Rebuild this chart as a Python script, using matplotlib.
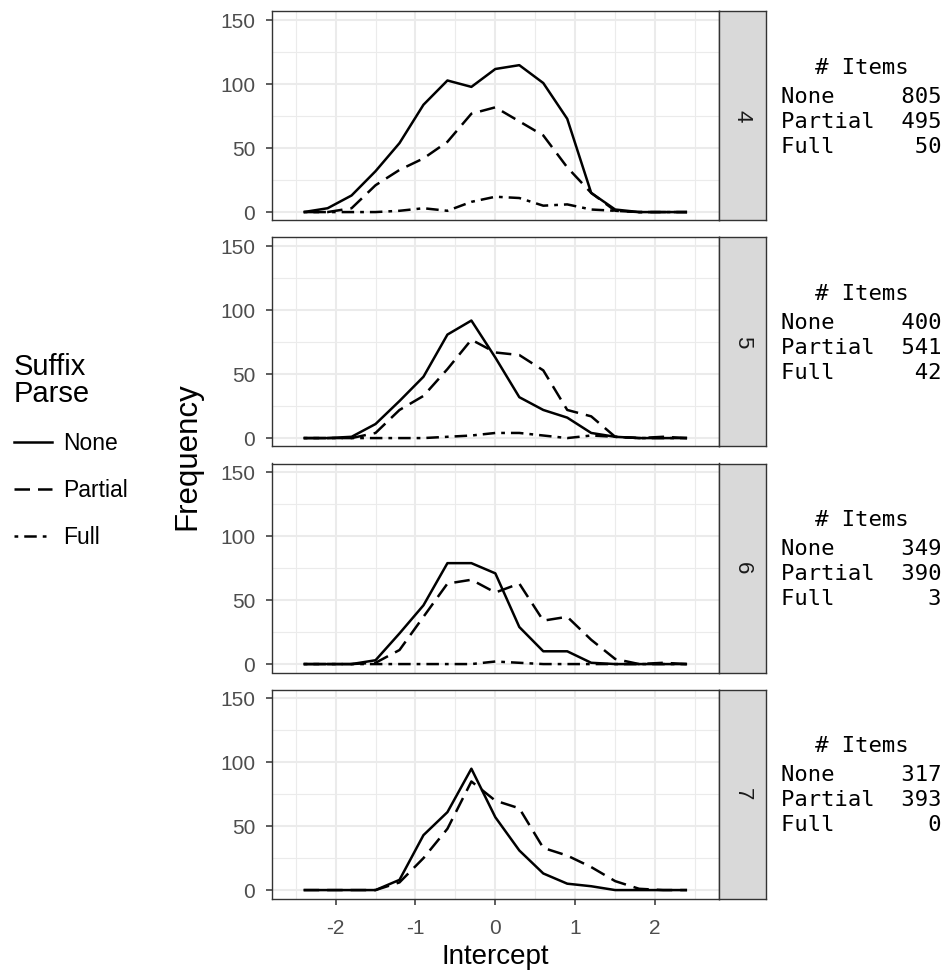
import matplotlib
matplotlib.use("Agg")
import matplotlib.pyplot as plt
from matplotlib.lines import Line2D

plt.rcParams['font.family'] = ['Liberation Sans', 'DejaVu Sans']

intercept = [-2.4, -2.1, -1.8, -1.5, -1.2, -0.9, -0.6, -0.3, 0.0, 0.3, 0.6, 0.9, 1.2, 1.5, 1.8, 2.1, 2.4]
facets = ["4", "5", "6", "7"]

none_4 = [0, 3, 13, 32, 54, 84, 103, 98, 112, 115, 101, 73, 15, 2, 0, 0, 0]
partial_4 = [0, 0, 3, 21, 33, 42, 55, 77, 82, 71, 60, 35, 15, 1, 0, 0, 0]
full_4 = [0, 0, 0, 0, 1, 3, 1, 8, 12, 11, 5, 6, 2, 1, 0, 0, 0]

none_5 = [0, 0, 1, 11, 29, 48, 81, 92, 63, 32, 22, 16, 4, 1, 0, 0, 0]
partial_5 = [0, 0, 0, 4, 22, 33, 54, 77, 67, 65, 53, 22, 17, 1, 0, 1, 0]
full_5 = [0, 0, 0, 0, 0, 0, 1, 2, 4, 4, 2, 0, 2, 1, 0, 0, 0]

none_6 = [0, 0, 0, 3, 24, 46, 79, 79, 71, 29, 10, 10, 1, 0, 0, 0, 0]
partial_6 = [0, 0, 0, 1, 11, 37, 63, 66, 56, 63, 34, 37, 19, 4, 0, 1, 0]
full_6 = [0, 0, 0, 0, 0, 0, 0, 0, 2, 1, 0, 0, 0, 0, 0, 0, 0]

none_7 = [0, 0, 0, 0, 8, 43, 61, 95, 57, 31, 13, 5, 3, 0, 0, 0, 0]
partial_7 = [0, 0, 0, 0, 6, 25, 48, 85, 70, 64, 33, 27, 18, 7, 1, 0, 0]
full_7 = [0, 0, 0, 0, 0, 0, 0, 0, 0, 0, 0, 0, 0, 0, 0, 0, 0]

series_names = ["None", "Partial", "Full"]
item_counts = {"4": [805, 495, 50], "5": [400, 541, 42], "6": [349, 390, 3], "7": [317, 393, 0]}

data = {
    "4": [none_4, partial_4, full_4],
    "5": [none_5, partial_5, full_5],
    "6": [none_6, partial_6, full_6],
    "7": [none_7, partial_7, full_7],
}

W, H = 951, 972
fig = plt.figure(figsize=(W / 100, H / 100), dpi=100)

grey_grid = "#EBEBEB"
grey_border = "#333333"
tick_col = "#4D4D4D"

lw = 1.8
styles = [dict(linestyle="-"),
          dict(linestyle=(0, (6.2, 3.2))),
          dict(linestyle=(0, (1.5, 2.4, 5.0, 2.4)))]

left_px, right_px = 271.7, 719.0
strip_right = 765.5
top0, ph, gap = 11.5, 209.0, 17.0

def fx(px):
    return px / W

def fy(py):
    return 1 - py / H

mono = dict(family="DejaVu Sans Mono", fontsize=16, color="black")

for i, f in enumerate(facets):
    t = top0 + i * (ph + gap)
    b = t + ph
    ax = fig.add_axes([fx(left_px), fy(b), fx(right_px - left_px), ph / H])
    ax.set_xlim(-2.8, 2.8)
    ax.set_ylim(-6.6, 157)
    ax.set_xticks([-2, -1, 0, 1, 2])
    ax.set_xticks([-2.5, -1.5, -0.5, 0.5, 1.5, 2.5], minor=True)
    ax.set_yticks([0, 50, 100, 150])
    ax.set_yticks([25, 75, 125], minor=True)
    ax.grid(True, which="major", color=grey_grid, linewidth=1.5, zorder=0)
    ax.grid(True, which="minor", color=grey_grid, linewidth=0.8, zorder=0)
    ax.set_axisbelow(True)
    for sp in ax.spines.values():
        sp.set_color(grey_border)
        sp.set_linewidth(1.0)
    ax.tick_params(axis="both", which="major", color=grey_border, length=4.5, width=1.1,
                   labelcolor=tick_col, labelsize=15, pad=7.5)
    ax.tick_params(axis="x", which="major", pad=10)
    ax.tick_params(axis="both", which="minor", length=0)
    if i < len(facets) - 1:
        ax.tick_params(axis="x", which="major", length=0, labelbottom=False)
    else:
        ax.set_xticklabels(["-2", "-1", "0", "1", "2"])
    for s, vals in enumerate(data[f]):
        if f == "7" and s == 2:
            continue
        ax.plot(intercept, vals, color="black", linewidth=lw, solid_capstyle="butt",
                dash_capstyle="butt", **styles[s], zorder=3)

    # strip
    sax = fig.add_axes([fx(right_px), fy(b), fx(strip_right - right_px), ph / H])
    sax.set_facecolor("#D9D9D9")
    sax.set_xticks([])
    sax.set_yticks([])
    for sp in sax.spines.values():
        sp.set_color(grey_border)
        sp.set_linewidth(1.0)
    sax.text(0.5, 0.5, f, rotation=-90, ha="center", va="center", fontsize=16,
             color="#1A1A1A", transform=sax.transAxes)

    # item counts table
    cy = t + ph / 2
    c = item_counts[f]
    fig.text(fx(862), fy(cy - 48.5), "# Items", ha="center", va="center", **mono)
    for k, (name, n) in enumerate(zip(series_names, c)):
        fig.text(fx(781), fy(cy - 19 + 25 * k), f"{name:<8}{n:>4}",
                 ha="left", va="center", **mono)

# axis titles
fig.text(fx(495), fy(957), "Intercept", ha="center", va="center", fontsize=20)
fig.text(fx(187), fy(456), "Frequency", ha="center", va="center", fontsize=22.5, rotation=90)

# legend
handles = [Line2D([], [], color="black", linewidth=lw, **styles[k]) for k in range(3)]
leg = fig.legend(handles, series_names, loc="upper left",
                 bbox_to_anchor=(fx(-2), fy(337)), frameon=False,
                 title="Suffix\nParse", title_fontsize=21, fontsize=16.5,
                 handlelength=1.65, handletextpad=0.5, labelspacing=1.05,
                 borderpad=0.2)
leg._legend_box.align = "left"
leg.get_title().set_linespacing(0.95)

fig.savefig("out.png", dpi=100)
